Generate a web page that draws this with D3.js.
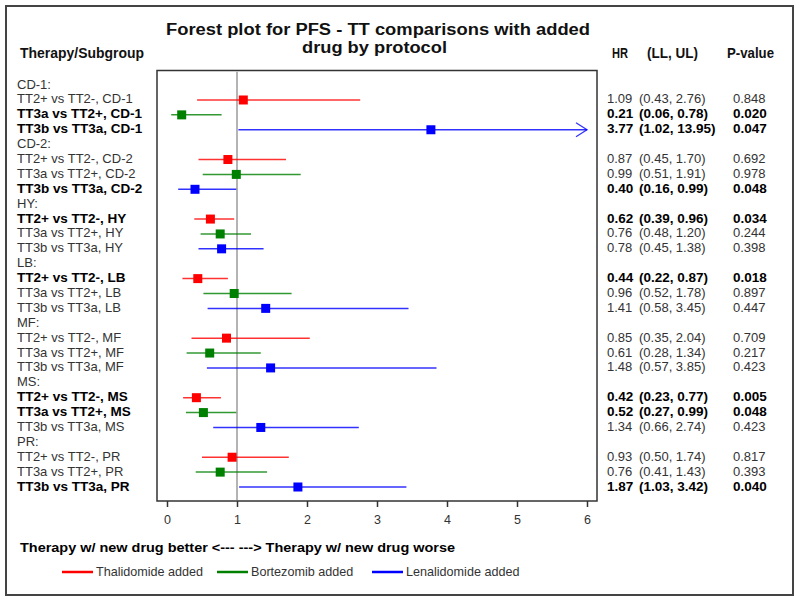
<!DOCTYPE html>
<html>
<head>
<meta charset="utf-8">
<script src="https://cdn.jsdelivr.net/npm/d3@7"></script>
<style>
  html, body { margin: 0; padding: 0; background: #fff; }
  svg { display: block; font-family: "Liberation Sans", Arial, sans-serif; }
</style>
</head>
<body>
<svg id="chart" width="800" height="602"></svg>
<script>
// ---- data ----
const groups = ["CD-1", "CD-2", "HY", "LB", "MF", "MS", "PR"];
const comparisons = ["TT2+ vs TT2-", "TT3a vs TT2+", "TT3b vs TT3a"];
const drugs = ["Thalidomide added", "Bortezomib added", "Lenalidomide added"];
const colors = ["#ff0000", "#008000", "#0000ff"];
const hrValues = [1.09, 0.21, 3.77, 0.87, 0.99, 0.40, 0.62, 0.76, 0.78, 0.44, 0.96, 1.41, 0.85, 0.61, 1.48, 0.42, 0.52, 1.34, 0.93, 0.76, 1.87];
const lowerCI  = [0.43, 0.06, 1.02, 0.45, 0.51, 0.16, 0.39, 0.48, 0.45, 0.22, 0.52, 0.58, 0.35, 0.28, 0.57, 0.23, 0.27, 0.66, 0.50, 0.41, 1.03];
const upperCI  = [2.76, 0.78, 13.95, 1.70, 1.91, 0.99, 0.96, 1.20, 1.38, 0.87, 1.78, 3.45, 2.04, 1.34, 3.85, 0.77, 0.99, 2.74, 1.74, 1.43, 3.42];
const pValues  = ["0.848", "0.020", "0.047", "0.692", "0.978", "0.048", "0.034", "0.244", "0.398", "0.018", "0.897", "0.447", "0.709", "0.217", "0.423", "0.005", "0.048", "0.423", "0.817", "0.393", "0.040"];
const xTicks = [0, 1, 2, 3, 4, 5, 6];

// ---- build rows ----
const rows = [];
groups.forEach((g, gi) => {
  rows.push({ type: "header", label: g + ":" });
  comparisons.forEach((c, ci) => {
    const k = gi * 3 + ci;
    rows.push({
      type: "item", label: c + ", " + g, ci,
      hr: hrValues[k], lo: lowerCI[k], hi: upperCI[k], p: pValues[k],
      bold: parseFloat(pValues[k]) < 0.05
    });
  });
});

const svg = d3.select("#chart");
const fmt = d3.format(".2f");
const FS = 13, FSB = 13.5;

// layout
const plot = { left: 157, right: 597, top: 70.5, bottom: 501 };
const x = d3.scaleLinear().domain([0, 6]).range([167, 587]);
const y = d3.scalePoint().domain(d3.range(rows.length)).range([85.1, 487]);

// outer frame
svg.append("rect").attr("x", 6).attr("y", 6).attr("width", 787).attr("height", 589)
  .attr("fill", "none").attr("stroke", "#444").attr("stroke-width", 2);

// title
svg.append("text").attr("x", 166).attr("y", 35)
  .attr("textLength", 424).attr("lengthAdjust", "spacingAndGlyphs")
  .attr("font-size", 16).attr("font-weight", "bold").attr("fill", "#111")
  .text("Forest plot for PFS - TT comparisons with added");
svg.append("text").attr("x", 302).attr("y", 53)
  .attr("textLength", 145).attr("lengthAdjust", "spacingAndGlyphs")
  .attr("font-size", 16).attr("font-weight", "bold").attr("fill", "#111")
  .text("drug by protocol");

// column headers
const headers = [
  { t: "Therapy/Subgroup", x: 20, w: 124 },
  { t: "HR", x: 612, w: 16 },
  { t: "(LL, UL)", x: 647, w: 51 },
  { t: "P-value", x: 727, w: 47 }
];
svg.selectAll("text.hdr").data(headers).join("text").attr("class", "hdr")
  .attr("x", d => d.x).attr("y", 58)
  .attr("textLength", d => d.w).attr("lengthAdjust", "spacingAndGlyphs")
  .attr("font-size", 14).attr("font-weight", "bold").attr("fill", "#111")
  .text(d => d.t);

// plot box
svg.append("rect").attr("x", plot.left).attr("y", plot.top)
  .attr("width", plot.right - plot.left).attr("height", plot.bottom - plot.top)
  .attr("fill", "none").attr("stroke", "#333").attr("stroke-width", 1.5);

// reference line at HR = 1
svg.append("line").attr("x1", x(1)).attr("x2", x(1))
  .attr("y1", plot.top + 1).attr("y2", plot.bottom - 1)
  .attr("stroke", "#b4b4b4").attr("stroke-width", 2);

// axis
const axis = d3.axisBottom(x).tickValues(xTicks).tickSize(6).tickPadding(8).tickFormat(d3.format("d"));
const gAxis = svg.append("g").attr("transform", `translate(0,${plot.bottom})`).call(axis);
gAxis.select(".domain").remove();
gAxis.selectAll(".tick line").attr("stroke", "#333").attr("stroke-width", 1.5);
gAxis.selectAll(".tick text").attr("font-size", 12.5).attr("fill", "#333")
  .attr("font-family", "'Liberation Sans', Arial, sans-serif");

// row labels
svg.selectAll("text.lbl").data(rows).join("text").attr("class", "lbl")
  .attr("x", 17).attr("y", (d, i) => y(i) + 3.5)
  .attr("font-size", d => d.bold ? FSB : FS)
  .attr("font-weight", d => d.bold ? "bold" : "normal")
  .attr("fill", d => d.bold ? "#000" : "#333")
  .text(d => d.label);

const items = rows.map((d, i) => ({ ...d, i })).filter(d => d.type === "item");

// CI lines
const gMarks = svg.append("g");
items.forEach(d => {
  const yy = y(d.i);
  const hiC = Math.min(d.hi, 6);
  gMarks.append("line")
    .attr("x1", x(d.lo)).attr("x2", x(hiC))
    .attr("y1", yy).attr("y2", yy)
    .attr("stroke", colors[d.ci]).attr("stroke-width", 1.5).attr("opacity", 0.8);
  if (d.hi > 6) {
    gMarks.append("path")
      .attr("d", `M${x(6) - 11},${yy - 7}L${x(6)},${yy}L${x(6) - 11},${yy + 7}`)
      .attr("fill", "none").attr("stroke", colors[d.ci]).attr("stroke-width", 1.3).attr("opacity", 0.8);
  }
  gMarks.append("rect")
    .attr("x", x(d.hr) - 4.5).attr("y", yy - 4.5)
    .attr("width", 9).attr("height", 9)
    .attr("fill", colors[d.ci]);
});

// right columns
const gRight = svg.append("g");
items.forEach(d => {
  const yy = y(d.i) + 3.5;
  const common = sel => sel.attr("font-size", d.bold ? FSB : FS)
    .attr("font-weight", d.bold ? "bold" : "normal")
    .attr("fill", d.bold ? "#000" : "#333");
  gRight.append("text").attr("x", 607).attr("y", yy).call(common).text(fmt(d.hr));
  gRight.append("text").attr("x", 639).attr("y", yy).call(common)
    .text(`(${fmt(d.lo)}, ${fmt(d.hi)})`);
  gRight.append("text").attr("x", 733).attr("y", yy).call(common).text(d.p);
});

// direction caption
svg.append("text").attr("x", 20).attr("y", 552)
  .attr("textLength", 435).attr("lengthAdjust", "spacingAndGlyphs")
  .attr("font-size", 13).attr("font-weight", "bold").attr("fill", "#000")
  .text("Therapy w/ new drug better <--- ---> Therapy w/ new drug worse");

// legend
const legendX = [62, 217, 372];
const gLeg = svg.append("g");
drugs.forEach((dname, i) => {
  gLeg.append("line").attr("x1", legendX[i]).attr("x2", legendX[i] + 31)
    .attr("y1", 572).attr("y2", 572)
    .attr("stroke", colors[i]).attr("stroke-width", 2.5);
  gLeg.append("text").attr("x", legendX[i] + 34).attr("y", 576)
    .attr("font-size", 12.6).attr("fill", "#333").text(dname);
});
</script>
</body>
</html>
